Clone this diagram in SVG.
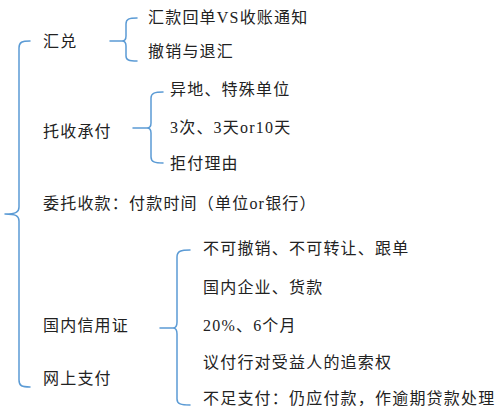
<svg xmlns="http://www.w3.org/2000/svg" width="500" height="414" viewBox="0 0 500 414">
<style>
text{font-family:"Liberation Serif","Noto Sans CJK SC",serif;font-size:16px;fill:#222;letter-spacing:1.2px}
.c{fill:none;stroke:#5B9BD5;stroke-width:1.5;stroke-linecap:round;stroke-linejoin:round}
</style>
<rect width="500" height="414" fill="#fff"/>
<g id="connectors">
<path class="c" d="M30,41 C22,41 19,42 19,48 L19,207 C19,212 16,214 5,214 C16,214 19,216 19,221 L19,380 C19,386 22,387 30,387"/>
<path class="c" d="M137,18 C129,18 126,19 126,24 L126,36 C126,39 125,41 122,41 L110,41 M122,41 C125,41 126,43 126,46 L126,56 C126,60 129,61 137,61"/>
<path class="c" d="M163,92 C155,92 151,93 151,98 L151,123 C151,126 150,128 147,128 L133,128 M147,128 C150,128 151,130 151,133 L151,157 C151,162 155,163 163,163"/>
<path class="c" d="M190,250 C181,250 177,251 177,257 L177,322 C177,326 176,328 173,328 L160,328 M173,328 C176,328 177,330 177,334 L177,399 C177,404 181,405 190,405"/>
</g>
<g id="root-huidui"><text x="43" y="47">汇兑</text></g>
<g id="huidui-1"><text x="148" y="23">汇款回单VS收账通知</text></g>
<g id="huidui-2"><text x="148" y="57">撤销与退汇</text></g>
<g id="root-tuoshou"><text x="43" y="137">托收承付</text></g>
<g id="tuoshou-1"><text x="170" y="95">异地、特殊单位</text></g>
<g id="tuoshou-2"><text x="170" y="133">3次、3天or10天</text></g>
<g id="tuoshou-3"><text x="170" y="169">拒付理由</text></g>
<g id="root-weituo"><text x="43" y="209">委托收款：付款时间（单位or银行）</text></g>
<g id="root-xinyongzheng"><text x="43" y="331">国内信用证</text></g>
<g id="xyz-1"><text x="203" y="254">不可撤销、不可转让、跟单</text></g>
<g id="xyz-2"><text x="203" y="293">国内企业、货款</text></g>
<g id="xyz-3"><text x="203" y="331">20%、6个月</text></g>
<g id="xyz-4"><text x="203" y="368">议付行对受益人的追索权</text></g>
<g id="xyz-5"><text x="203" y="404">不足支付：仍应付款，作逾期贷款处理</text></g>
<g id="root-wangshang"><text x="43" y="384">网上支付</text></g>
</svg>
